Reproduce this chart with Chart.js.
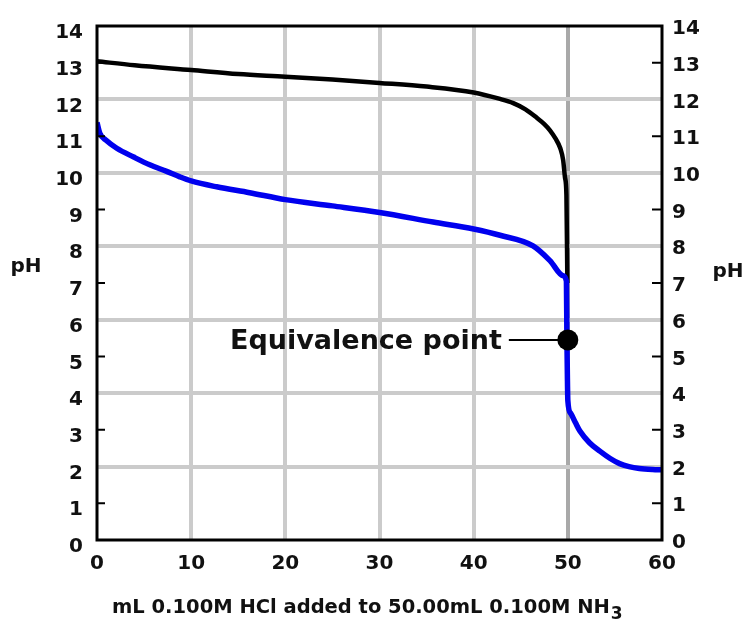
<!DOCTYPE html>
<html>
<head>
<meta charset="utf-8">
<title>Titration curve</title>
<script src="https://cdn.jsdelivr.net/npm/chart.js@4.4.1/dist/chart.umd.min.js"></script>
<style>
  html, body { margin: 0; padding: 0; background: #fff; }
  canvas { display: block; }
</style>
</head>
<body>
<canvas id="phChart" width="749" height="621"></canvas>
<script>
// black curve (strong base)
const strongBaseML = [0, 4, 10, 15, 20, 25, 30, 35, 40, 42.7, 44.2, 45.5, 46.7, 47.5, 48.1, 48.7, 49.2, 49.5, 49.7, 49.85, 49.95];
const strongBasePH = [13.04, 12.93, 12.8, 12.69, 12.62, 12.54, 12.45, 12.35, 12.19, 12.02, 11.9, 11.73, 11.5, 11.33, 11.16, 10.93, 10.67, 10.35, 9.87, 9.4, 7.0];

// blue curve (NH3)
const ammoniaML = [0, 0.3, 1, 2.1, 3.9, 5.6, 7.4, 8.8, 10, 12.7, 16.2, 20, 25, 30, 35.7, 40, 42.8, 46.3, 48.1, 49.5, 49.85, 49.9, 49.95, 50, 50.3, 50.8, 51.3, 52.3, 53.4, 54.5, 55.5, 56.5, 57.6, 59, 60];
const ammoniaPH = [11.37, 11.08, 10.88, 10.67, 10.43, 10.22, 10.04, 9.89, 9.78, 9.62, 9.46, 9.27, 9.1, 8.92, 8.66, 8.47, 8.3, 8.01, 7.61, 7.2, 7.05, 5.5, 4.5, 3.8, 3.45, 3.2, 2.96, 2.65, 2.42, 2.22, 2.08, 2.0, 1.95, 1.92, 1.91];

const equivML = [50];
const equivPH = [5.45];

const xTicks = [0, 10, 20, 30, 40, 50, 60];
const yTicks = [0, 1, 2, 3, 4, 5, 6, 7, 8, 9, 10, 11, 12, 13, 14];

const FONT = '"DejaVu Sans", sans-serif';

function toPoints(xs, ys) {
  return xs.map((x, i) => ({ x: x, y: ys[i] }));
}

function gridX(ctx) {
  const v = ctx.tick.value;
  if (v === 0 || v === 60) return 'rgba(0,0,0,0)';
  return v === 50 ? '#a9a9a9' : '#cbcbcb';
}

function gridY(ctx) {
  const v = ctx.tick.value;
  if (v % 2 === 0 && v > 0 && v < 14) return '#cbcbcb';
  return 'rgba(0,0,0,0)';
}

// frame, inward ticks, pH labels, x title, equivalence label
const decor = {
  id: 'decor',
  afterDatasetsDraw(chart) {
    const c = chart.ctx;
    const a = chart.chartArea;
    const y = chart.scales.y;
    const x = chart.scales.x;
    c.save();

    c.strokeStyle = '#000';
    c.lineWidth = 2;
    yTicks.forEach(v => {
      if (v % 2 === 1) {
        const py = y.getPixelForValue(v);
        c.beginPath();
        c.moveTo(a.left, py); c.lineTo(a.left + 8, py);
        c.moveTo(a.right - 10, py); c.lineTo(a.right, py);
        c.stroke();
      }
    });

    c.lineWidth = 3;
    c.strokeRect(a.left, a.top, a.right - a.left, a.bottom - a.top);

    // equivalence point label + leader
    const ex = x.getPixelForValue(equivML[0]);
    const ey = y.getPixelForValue(equivPH[0]);
    c.lineWidth = 2;
    c.beginPath();
    c.moveTo(ex - 59, ey);
    c.lineTo(ex - 8, ey);
    c.stroke();

    c.fillStyle = '#111';
    c.font = 'bold 27px ' + FONT;
    c.textAlign = 'right';
    c.textBaseline = 'alphabetic';
    c.fillText('Equivalence point', ex - 66, ey + 9);

    c.font = 'bold 20px ' + FONT;
    c.textAlign = 'center';
    c.fillText('pH', 26, 272);
    c.fillText('pH', 728, 277);

    c.font = 'bold 19.5px ' + FONT;
    c.textAlign = 'left';
    const title = 'mL 0.100M HCl added to 50.00mL 0.100M NH';
    c.fillText(title, 112, 613);
    const w = c.measureText(title).width;
    c.font = 'bold 17px ' + FONT;
    c.fillText('3', 112 + w + 1, 619);

    c.restore();
  }
};

new Chart(document.getElementById('phChart'), {
  type: 'scatter',
  data: {
    datasets: [
      {
        label: 'Equivalence point',
        data: toPoints(equivML, equivPH),
        pointRadius: 10.5,
        pointBackgroundColor: '#000',
        pointBorderWidth: 0,
        order: 0
      },
      {
        label: 'NH3',
        data: toPoints(ammoniaML, ammoniaPH),
        showLine: true,
        borderColor: '#0000ee',
        borderWidth: 5.5,
        pointRadius: 0,
        cubicInterpolationMode: 'monotone',
        order: 1
      },
      {
        label: 'strong base',
        data: toPoints(strongBaseML, strongBasePH),
        showLine: true,
        borderColor: '#000',
        borderWidth: 4.5,
        pointRadius: 0,
        cubicInterpolationMode: 'monotone',
        order: 2
      }
    ]
  },
  options: {
    responsive: false,
    animation: false,
    layout: { padding: { top: 19 } },
    plugins: {
      legend: { display: false },
      tooltip: { enabled: false }
    },
    scales: {
      x: {
        type: 'linear',
        min: 0, max: 60,
        afterBuildTicks: s => { s.ticks = xTicks.map(v => ({ value: v })); },
        afterFit: s => { s.height = 81; },
        ticks: { color: '#111', padding: 12, font: { family: FONT, size: 20, weight: 'bold' } },
        grid: { color: gridX, lineWidth: 4, drawTicks: false },
        border: { display: false }
      },
      y: {
        type: 'linear',
        position: 'left',
        min: 0, max: 14,
        afterBuildTicks: s => { s.ticks = yTicks.map(v => ({ value: v })); },
        afterFit: s => { s.width = 97; },
        ticks: { color: '#111', padding: 14, labelOffset: 7, font: { family: FONT, size: 20, weight: 'bold' } },
        grid: { color: gridY, lineWidth: 4, drawTicks: false },
        border: { display: false }
      },
      y2: {
        type: 'linear',
        position: 'right',
        min: 0, max: 14,
        afterBuildTicks: s => { s.ticks = yTicks.map(v => ({ value: v })); },
        afterFit: s => { s.width = 87; },
        ticks: { color: '#111', padding: 10, labelOffset: 3, font: { family: FONT, size: 20, weight: 'bold' } },
        grid: { display: false, drawTicks: false },
        border: { display: false }
      }
    }
  },
  plugins: [decor]
});
</script>
</body>
</html>
